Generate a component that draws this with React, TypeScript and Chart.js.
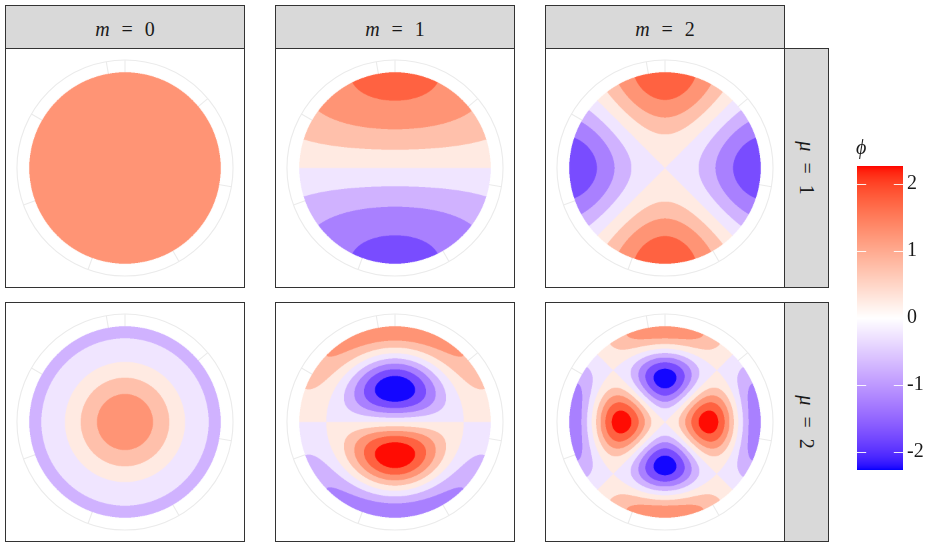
import React, { useEffect, useRef } from "react";
import { Chart, registerables } from "chart.js";

Chart.register(...registerables);

// ---------------- data ----------------
const mValues = [0, 1, 2];
const muValues = [1, 2];
// Neumann wave numbers of the disk (zeros of J_m'), rows: m, columns: mu
const waveNumbers = [
  [0, 3.8317],
  [1.8412, 5.3314],
  [3.0542, 6.7061],
];
// mode amplitudes (sign sets the orientation)
const amplitudes = [
  [1.41, 1.41],
  [2.88, -4.16],
  [3.85, -4.73],
];
const levelBreaks = [-2.5, -2, -1.5, -1, -0.5, 0, 0.5, 1, 1.5, 2, 2.5];
const colorLimits = [-2.27, 2.27];
const colorbarTicks = [-2, -1, 0, 1, 2];
const thetaGridDeg = [0, 50, 100, 150, 200, 250, 300, 350];

// ---------------- layout / style ----------------
const colLeft = [5, 275, 545];
const rowTop = [48, 302];
const PANEL = 240;
const STRIP_TOP = 5;
const STRIP_H = 44;
const SIDE_LEFT = 784;
const SIDE_W = 45;
const DATA_HALF = 119 / 95.7; // half extent of each panel in data units
const POLAR_GRID_R = 1.129;
const BORDER = "1px solid #333333";
const STRIP_BG = "#D9D9D9";
const TEXT = "#1A1A1A";
const FONT = '"Liberation Serif", "DejaVu Serif", serif';
const CB_PAD = 16; // vertical padding chart.js keeps around the colour bar scale

// ---------------- colour scale (Lab interpolation blue-white-red) -------------
const WX = 0.95047, WY = 1.0, WZ = 1.08883;
function toLinear(c: number) {
  const v = c / 255;
  return v <= 0.04045 ? v / 12.92 : Math.pow((v + 0.055) / 1.055, 2.4);
}
function toSrgb(v: number) {
  const c = v <= 0.0031308 ? 12.92 * v : 1.055 * Math.pow(v, 1 / 2.4) - 0.055;
  return Math.round(Math.max(0, Math.min(1, c)) * 255);
}
function rgbToLab(r: number, g: number, b: number) {
  const R = toLinear(r), G = toLinear(g), B = toLinear(b);
  const X = (0.4124564 * R + 0.3575761 * G + 0.1804375 * B) / WX;
  const Y = (0.2126729 * R + 0.7151522 * G + 0.072175 * B) / WY;
  const Z = (0.0193339 * R + 0.119192 * G + 0.9503041 * B) / WZ;
  const f = (t: number) => (t > 0.008856 ? Math.cbrt(t) : 7.787 * t + 16 / 116);
  const fx = f(X), fy = f(Y), fz = f(Z);
  return [116 * fy - 16, 500 * (fx - fy), 200 * (fy - fz)];
}
function labToRgb(L: number, a: number, b: number) {
  const fy = (L + 16) / 116, fx = fy + a / 500, fz = fy - b / 200;
  const inv = (t: number) => (t * t * t > 0.008856 ? t * t * t : (t - 16 / 116) / 7.787);
  const X = inv(fx) * WX, Y = inv(fy) * WY, Z = inv(fz) * WZ;
  const R = 3.2404542 * X - 1.5371385 * Y - 0.4985314 * Z;
  const G = -0.969266 * X + 1.8760108 * Y + 0.041556 * Z;
  const B = 0.0556434 * X - 0.2040259 * Y + 1.0572252 * Z;
  return [toSrgb(R), toSrgb(G), toSrgb(B)];
}
const LAB_LOW = rgbToLab(0, 0, 255);
const LAB_MID = rgbToLab(255, 255, 255);
const LAB_HIGH = rgbToLab(255, 0, 0);
function fillColor(v: number) {
  const t = Math.max(-1, Math.min(1, v / colorLimits[1]));
  const end = t >= 0 ? LAB_HIGH : LAB_LOW;
  const s = Math.abs(t);
  return labToRgb(
    LAB_MID[0] + (end[0] - LAB_MID[0]) * s,
    LAB_MID[1] + (end[1] - LAB_MID[1]) * s,
    LAB_MID[2] + (end[2] - LAB_MID[2]) * s
  );
}
const bandColors = levelBreaks.slice(0, -1).map((b, i) => fillColor((b + levelBreaks[i + 1]) / 2));
function bandIndex(v: number) {
  for (let i = 0; i < levelBreaks.length - 1; i++) {
    if (v >= levelBreaks[i] && v < levelBreaks[i + 1]) return i;
  }
  return v < 0 ? 0 : levelBreaks.length - 2;
}

// ---------------- mode shape ----------------
function besselJ(m: number, x: number) {
  let fact = 1;
  for (let i = 2; i <= m; i++) fact *= i;
  let term = Math.pow(x / 2, m) / fact;
  let sum = term;
  const q = -(x * x) / 4;
  for (let k = 1; k < 60; k++) {
    term *= q / (k * (k + m));
    sum += term;
    if (Math.abs(term) < 1e-14) break;
  }
  return sum;
}
function modeValue(mi: number, ui: number, x: number, y: number) {
  const r = Math.sqrt(x * x + y * y);
  const m = mValues[mi];
  const alpha = Math.atan2(x, y); // angle from the top, clockwise
  return amplitudes[mi][ui] * besselJ(m, waveNumbers[mi][ui] * r) * Math.cos(m * alpha);
}

// ---------------- components ----------------
function Panel({ mi, ui }: { mi: number; ui: number }) {
  const ref = useRef<HTMLCanvasElement>(null);
  useEffect(() => {
    const plugin = {
      id: "modeField",
      beforeDatasetsDraw(chart: any) {
        const { ctx, chartArea: a } = chart;
        const xs = chart.scales.x, ys = chart.scales.y;
        const cx = xs.getPixelForValue(0), cy = ys.getPixelForValue(0);
        const rOuter = xs.getPixelForValue(POLAR_GRID_R) - cx;
        const rInner = xs.getPixelForValue(0.9) - cx;
        ctx.save();
        ctx.strokeStyle = "#EBEBEB";
        ctx.lineWidth = 1.1;
        ctx.beginPath();
        ctx.arc(cx, cy, rOuter, 0, Math.PI * 2);
        ctx.stroke();
        for (const d of thetaGridDeg) {
          const t = (d * Math.PI) / 180;
          ctx.beginPath();
          ctx.moveTo(cx + rInner * Math.sin(t), cy - rInner * Math.cos(t));
          ctx.lineTo(cx + rOuter * Math.sin(t), cy - rOuter * Math.cos(t));
          ctx.stroke();
        }
        const S = 3;
        const W = Math.round((a.right - a.left) * S);
        const H = Math.round((a.bottom - a.top) * S);
        const off = document.createElement("canvas");
        off.width = W;
        off.height = H;
        const octx = off.getContext("2d")!;
        const img = octx.createImageData(W, H);
        const px = img.data;
        const xv = new Float64Array(W);
        const yv = new Float64Array(H);
        for (let i = 0; i < W; i++) xv[i] = xs.getValueForPixel(a.left + (i + 0.5) / S);
        for (let j = 0; j < H; j++) yv[j] = ys.getValueForPixel(a.top + (j + 0.5) / S);
        for (let j = 0; j < H; j++) {
          for (let i = 0; i < W; i++) {
            const X = xv[i], Y = yv[j];
            if (X * X + Y * Y > 1) continue;
            const c = bandColors[bandIndex(modeValue(mi, ui, X, Y))];
            const k = (j * W + i) * 4;
            px[k] = c[0];
            px[k + 1] = c[1];
            px[k + 2] = c[2];
            px[k + 3] = 255;
          }
        }
        octx.putImageData(img, 0, 0);
        ctx.imageSmoothingEnabled = true;
        ctx.imageSmoothingQuality = "high";
        ctx.drawImage(off, a.left, a.top, W / S, H / S);
        ctx.restore();
      },
    };
    const chart = new Chart(ref.current!, {
      type: "scatter",
      data: { datasets: [] },
      options: {
        animation: false,
        responsive: false,
        events: [],
        layout: { padding: 0, autoPadding: false },
        plugins: { legend: { display: false }, tooltip: { enabled: false } },
        scales: {
          x: { type: "linear", display: false, min: -DATA_HALF, max: DATA_HALF },
          y: { type: "linear", display: false, min: -DATA_HALF, max: DATA_HALF },
        },
      },
      plugins: [plugin],
    } as any);
    return () => chart.destroy();
  }, [mi, ui]);
  return (
    <div
      style={{
        position: "absolute",
        left: colLeft[mi],
        top: rowTop[ui],
        width: PANEL,
        height: PANEL,
        border: BORDER,
        boxSizing: "border-box",
        background: "#fff",
      }}
    >
      <canvas
        ref={ref}
        width={PANEL - 2}
        height={PANEL - 2}
        style={{ position: "absolute", left: 0, top: 0, width: PANEL - 2, height: PANEL - 2 }}
      />
    </div>
  );
}

function TopStrip({ mi }: { mi: number }) {
  return (
    <div
      style={{
        position: "absolute",
        left: colLeft[mi],
        top: STRIP_TOP,
        width: PANEL,
        height: STRIP_H,
        border: BORDER,
        boxSizing: "border-box",
        background: STRIP_BG,
      }}
    >
      <div
        style={{
          position: "absolute",
          left: 0,
          right: 0,
          top: 13,
          textAlign: "center",
          fontSize: 20,
          lineHeight: "20px",
          color: TEXT,
          fontFamily: FONT,
          whiteSpace: "nowrap",
        }}
      >
        <i>m</i>
        <span style={{ margin: "0 12px" }}>=</span>
        <span>{mValues[mi]}</span>
      </div>
    </div>
  );
}

function SideStrip({ ui }: { ui: number }) {
  return (
    <div
      style={{
        position: "absolute",
        left: SIDE_LEFT,
        top: rowTop[ui],
        width: SIDE_W,
        height: PANEL,
        border: BORDER,
        boxSizing: "border-box",
        background: STRIP_BG,
      }}
    >
      <div
        style={{
          position: "absolute",
          left: "50%",
          top: "50%",
          transform: "translate(-50%, -50%) rotate(90deg)",
          fontSize: 20,
          lineHeight: "20px",
          color: TEXT,
          fontFamily: FONT,
          whiteSpace: "nowrap",
        }}
      >
        <i>μ</i>
        <span style={{ margin: "0 11px" }}>=</span>
        <span>{muValues[ui]}</span>
      </div>
    </div>
  );
}

function ColorBar() {
  const ref = useRef<HTMLCanvasElement>(null);
  useEffect(() => {
    const plugin = {
      id: "colorBar",
      beforeDatasetsDraw(chart: any) {
        const { ctx, chartArea: a } = chart;
        const ys = chart.scales.y;
        const top = ys.getPixelForValue(colorLimits[1]);
        const bot = ys.getPixelForValue(colorLimits[0]);
        ctx.save();
        for (let p = Math.floor(top); p < Math.ceil(bot); p++) {
          const c = fillColor(ys.getValueForPixel(p + 0.5));
          ctx.fillStyle = `rgb(${c[0]},${c[1]},${c[2]})`;
          ctx.fillRect(a.left, p, a.right - a.left, 1);
        }
        const len = (a.right - a.left) / 5;
        ctx.strokeStyle = "rgba(255,255,255,0.9)";
        ctx.lineWidth = 1;
        for (const t of colorbarTicks) {
          const py = Math.round(ys.getPixelForValue(t)) + 0.5;
          ctx.beginPath();
          ctx.moveTo(a.left, py);
          ctx.lineTo(a.left + len, py);
          ctx.moveTo(a.right - len, py);
          ctx.lineTo(a.right, py);
          ctx.stroke();
        }
        ctx.restore();
      },
    };
    const chart = new Chart(ref.current!, {
      type: "scatter",
      data: { datasets: [] },
      options: {
        animation: false,
        responsive: false,
        events: [],
        layout: { padding: 0, autoPadding: false },
        plugins: { legend: { display: false }, tooltip: { enabled: false } },
        scales: {
          x: { type: "linear", display: false, min: 0, max: 1 },
          y: {
            type: "linear",
            position: "right",
            min: colorLimits[0],
            max: colorLimits[1],
            grid: { display: false, drawTicks: false },
            border: { display: false },
            afterBuildTicks: (scale: any) => {
              scale.ticks = colorbarTicks.map((v) => ({ value: v }));
            },
            afterFit: (scale: any) => {
              scale.width = 31;
            },
            ticks: {
              padding: 4,
              color: TEXT,
              font: { family: FONT, size: 20 },
              callback: (v: any) => String(v),
            },
          },
        },
      },
      plugins: [plugin],
    } as any);
    return () => chart.destroy();
  }, []);
  return (
    <canvas
      ref={ref}
      width={77}
      height={304 + 2 * CB_PAD}
      style={{ position: "absolute", left: 857, top: 166 - CB_PAD, width: 77, height: 304 + 2 * CB_PAD }}
    />
  );
}

export default function App() {
  return (
    <div
      style={{
        position: "absolute",
        left: 0,
        top: 0,
        width: 934,
        height: 542,
        background: "#ffffff",
        overflow: "hidden",
      }}
    >
      {mValues.map((m, mi) => (
        <TopStrip key={"strip" + m} mi={mi} />
      ))}
      {muValues.map((mu, ui) => (
        <SideStrip key={"side" + mu} ui={ui} />
      ))}
      {muValues.map((mu, ui) =>
        mValues.map((m, mi) => <Panel key={`p${m}-${mu}`} mi={mi} ui={ui} />)
      )}
      <ColorBar />
      <div
        style={{
          position: "absolute",
          left: 856,
          top: 137,
          fontSize: 20,
          lineHeight: "20px",
          fontStyle: "italic",
          color: TEXT,
          fontFamily: FONT,
        }}
      >
        ϕ
      </div>
    </div>
  );
}
